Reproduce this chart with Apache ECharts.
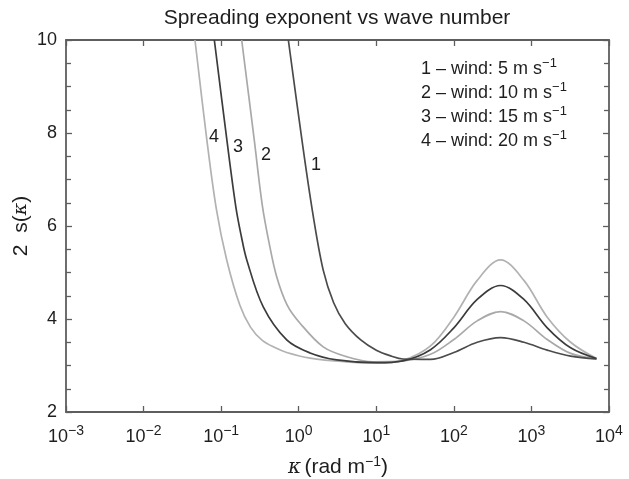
<!DOCTYPE html>
<html>
<head>
<meta charset="utf-8">
<script src="https://cdn.jsdelivr.net/npm/echarts@6/dist/echarts.min.js"></script>
<style>
  html, body { margin: 0; padding: 0; background: #fff; }
  #chart { width: 629px; height: 479px; }
</style>
</head>
<body>
<div id="chart"></div>
<script>
// Spreading exponent 2 s(κ) against wave number κ, four wind speeds.

// Wave numbers (rad/m) along the short-wave branch, one list per curve
const kappaHead1 = [0.735, 1.09, 1.51, 2.07, 2.82, 3.98, 6.31, 10, 15.8];
const kappaHead2 = [0.184, 0.265, 0.339, 0.417, 0.52, 0.71, 1.04, 2.07, 4.15, 9.1];
const kappaHead3 = [0.0817, 0.1175, 0.155, 0.182, 0.214, 0.349, 0.70, 1.4, 3.09, 10];
const kappaHead4 = [0.046, 0.065, 0.087, 0.118, 0.174, 0.24, 0.339, 0.50, 0.70, 1.4, 4, 10];
// Wave numbers through the crossing and the capillary bump (shared)
const kappaTail = [22, 50, 100, 200, 400, 800, 1600, 3200, 6900];

// 2 s(κ) values
const spread1Head = [10, 7.9, 6.3, 5.05, 4.35, 3.9, 3.55, 3.33, 3.2];
const spread1Tail = [3.14, 3.13, 3.28, 3.5, 3.6, 3.5, 3.33, 3.2, 3.14];
const spread2Head = [10, 7.9, 6.45, 5.62, 4.91, 4.3, 3.91, 3.40, 3.19, 3.08];
const spread2Tail = [3.1, 3.24, 3.56, 3.96, 4.16, 3.96, 3.56, 3.26, 3.14];
const spread3Head = [10, 7.9, 6.4, 5.78, 5.27, 4.26, 3.55, 3.27, 3.12, 3.06];
const spread3Tail = [3.1, 3.34, 3.81, 4.42, 4.72, 4.42, 3.81, 3.38, 3.15];
const spread4Head = [10, 7.89, 6.35, 5.27, 4.3, 3.82, 3.54, 3.38, 3.28, 3.16, 3.08, 3.05];
const spread4Tail = [3.11, 3.42, 4.04, 4.83, 5.27, 4.83, 4.04, 3.5, 3.15];

const curveIds = ['1', '2', '3', '4'];
const windSpeeds = [5, 10, 15, 20];
const yTicks = [2, 4, 6, 8, 10];

const FONT = '"Liberation Sans", Arial, Helvetica, sans-serif';
const AXIS_COLOR = '#5e5e5e';
const TEXT_COLOR = '#1e1e1e';

function pairs(ks, vs) { return ks.map((k, i) => [k, vs[i]]); }

const curves = [
  { id: '1', data: pairs(kappaHead1.concat(kappaTail), spread1Head.concat(spread1Tail)), color: '#4b4b4b' },
  { id: '2', data: pairs(kappaHead2.concat(kappaTail), spread2Head.concat(spread2Tail)), color: '#a9a9a9' },
  { id: '3', data: pairs(kappaHead3.concat(kappaTail), spread3Head.concat(spread3Tail)), color: '#3c3c3c' },
  { id: '4', data: pairs(kappaHead4.concat(kappaTail), spread4Head.concat(spread4Tail)), color: '#b2b2b2' }
];

function powerLabel(v) {
  const e = Math.round(Math.log10(v));
  const s = e < 0 ? '\u2212' + (-e) : String(e);
  return '{b|10}{s|' + s + '}';
}

const tickRich = {
  b: { fontSize: 18, fontFamily: FONT, color: TEXT_COLOR, verticalAlign: 'bottom', lineHeight: 22 },
  s: { fontSize: 14, fontFamily: FONT, color: TEXT_COLOR, verticalAlign: 'bottom', lineHeight: 22, padding: [0, 0, 8, 0] }
};

const chart = echarts.init(document.getElementById('chart'), null, { renderer: 'canvas' });

const frameLine = { show: true, lineStyle: { color: AXIS_COLOR, width: 1.8 } };
const tickStyle = { color: AXIS_COLOR, width: 1.3 };

const xBase = {
  type: 'log', logBase: 10, min: 0.001, max: 10000, interval: 1,
  axisLine: frameLine,
  axisTick: { show: true, inside: true, length: 6, lineStyle: tickStyle },
  splitLine: { show: false },
  minorTick: { show: false }
};
const yBase = {
  type: 'value', min: yTicks[0], max: yTicks[yTicks.length - 1], interval: 2,
  axisLine: frameLine,
  axisTick: { show: true, inside: true, length: 6, lineStyle: tickStyle },
  minorTick: { show: true, splitNumber: 4, length: 5, lineStyle: tickStyle },
  splitLine: { show: false }
};

const legendLines = curveIds.map((id, i) =>
  '{t|' + id + ' \u2013 wind: ' + windSpeeds[i] + ' m s}{s|\u22121}');

const labelSpots = [
  { id: '4', x: 214, y: 137 },
  { id: '3', x: 238, y: 147 },
  { id: '2', x: 266, y: 155 },
  { id: '1', x: 316, y: 165 }
];

chart.setOption({
  animation: false,
  backgroundColor: '#ffffff',
  grid: { left: 66, right: 20, top: 40, bottom: 67, containLabel: false },
  xAxis: [
    Object.assign({}, xBase, {
      position: 'bottom',
      axisLabel: { show: true, margin: 12, formatter: powerLabel, rich: tickRich }
    }),
    Object.assign({}, xBase, { position: 'top', axisLabel: { show: false } })
  ],
  yAxis: [
    Object.assign({}, yBase, {
      position: 'left',
      axisLabel: { show: true, margin: 9, fontSize: 18, fontFamily: FONT, color: TEXT_COLOR }
    }),
    Object.assign({}, yBase, { position: 'right', axisLabel: { show: false } })
  ],
  series: curves.map(c => ({
    name: c.id,
    type: 'line',
    xAxisIndex: 0,
    yAxisIndex: 0,
    data: c.data,
    showSymbol: false,
    smooth: 0.35,
    clip: true,
    lineStyle: { color: c.color, width: 1.7 },
    z: c.id === '1' || c.id === '3' ? 3 : 2
  })),
  graphic: [
    {
      type: 'text', x: 337, y: 18,
      style: { text: 'Spreading exponent vs wave number', font: '21px ' + FONT, fill: TEXT_COLOR, align: 'center', verticalAlign: 'middle' }
    },
    {
      type: 'text', x: 338, y: 466,
      style: {
        text: '{k|\u03ba} {t|(rad m}{s|\u22121}{t|)}',
        align: 'center', verticalAlign: 'middle',
        rich: {
          k: { font: 'italic 20px "DejaVu Serif", serif', fill: TEXT_COLOR, verticalAlign: 'bottom', lineHeight: 24 },
          t: { font: '21px ' + FONT, fill: TEXT_COLOR, verticalAlign: 'bottom', lineHeight: 24 },
          s: { font: '14px ' + FONT, fill: TEXT_COLOR, verticalAlign: 'bottom', lineHeight: 24, padding: [0, 0, 9, 0] }
        }
      }
    },
    {
      type: 'text', x: 21, y: 226, rotation: Math.PI / 2,
      style: {
        text: '{t|2  s(}{k|\u03ba}{t|)}',
        align: 'center', verticalAlign: 'middle',
        rich: {
          k: { font: 'italic 19px "DejaVu Serif", serif', fill: TEXT_COLOR },
          t: { font: '21px ' + FONT, fill: TEXT_COLOR }
        }
      }
    },
    {
      type: 'text', x: 421, y: 54,
      style: {
        text: legendLines.join('\n'),
        align: 'left', verticalAlign: 'top',
        rich: {
          t: { font: '18px ' + FONT, fill: TEXT_COLOR, lineHeight: 24, verticalAlign: 'bottom' },
          s: { font: '13px ' + FONT, fill: TEXT_COLOR, lineHeight: 24, verticalAlign: 'bottom', padding: [0, 0, 8, 0] }
        }
      }
    }
  ].concat(labelSpots.map(p => ({
    type: 'text', x: p.x, y: p.y,
    style: { text: p.id, font: '18px ' + FONT, fill: TEXT_COLOR, align: 'center', verticalAlign: 'middle' }
  })))
});
</script>
</body>
</html>
